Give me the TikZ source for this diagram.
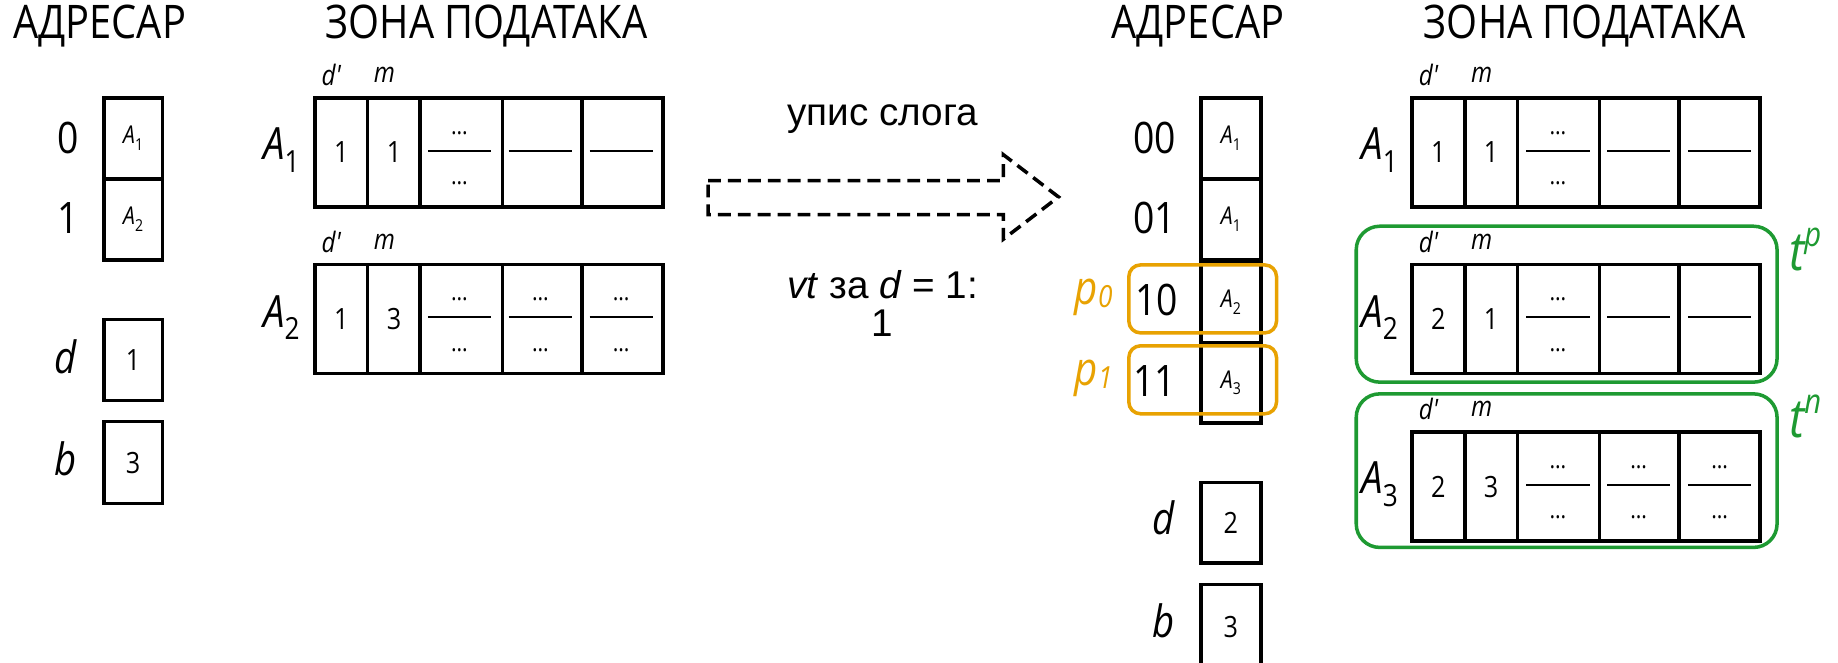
\documentclass[tikz,border=0pt]{standalone}
\usepackage{fontspec}
\setmainfont[FakeStretch=0.86]{Open Sans}
\newfontfamily\arialf{Liberation Sans}
\definecolor{orng}{HTML}{E8A202}
\definecolor{grn}{HTML}{1E9A32}
\newcommand\fsz[1]{\fontsize{#1}{#1}\selectfont}
\newcommand\subA[3]{\fsz{#1}\textit{A}\raisebox{-0.28em}{\fsz{#2}#3}}
\tikzset{
  box/.style={draw, line width=3.2pt, inner sep=0pt, anchor=north west},
  title/.style={font=\fsz{39.5}},
  lbl/.style={font=\fsz{37}},
  val/.style={font=\fsz{25}},
  hdr/.style={font=\fsz{24}\itshape},
  dots/.style={font=\fsz{21}, anchor=base, inner sep=0pt},
  fline/.style={line width=1.7pt},
  obox/.style={draw=orng, line width=3pt, rounded corners=10pt},
  gbox/.style={draw=grn, line width=3pt, rounded corners=20pt},
}
% fraction cell: name prefix, center x, center y
\newcommand\fraccell[3]{%
  \draw[fline] (#2-27,#3) -- (#2+27,#3);
  \node[dots] (#1u) at (#2,#3-14) {…};
  \node[dots] (#1d) at (#2,#3+29) {…};}
\newcommand\linecell[3]{%
  \draw[fline] (#2-27,#3) -- (#2+27,#3);}
% record: name, x0, ytop, v1, v2
\newcommand\record[5]{%
  \node[box, minimum width=45, minimum height=93] (#1c1) at (#2,#3) {};
  \node[val] at (#1c1.center) {#4};
  \node[box, minimum width=45, minimum height=93] (#1c2) at (#2+45,#3) {};
  \node[val] at (#1c2.center) {#5};
  \node[box, minimum width=70, minimum height=93] (#1c3) at (#2+90,#3) {};
  \node[box, minimum width=68, minimum height=93] (#1c4) at (#2+160,#3) {};
  \node[box, minimum width=69, minimum height=93] (#1c5) at (#2+228,#3) {};
  \node[hdr] (#1hd) at (#2+16,#3-18) {d\textquotesingle};
  \node[hdr] (#1hm) at (#2+61,#3-18) {m};}
\begin{document}
\begin{tikzpicture}[x=1pt,y=-1pt]
\useasboundingbox (0,0) rectangle (1568,565);
% ---------- left state ----------
\node[title] (t1) at (85,22) {АДРЕСАР};
\node[title] (t2) at (415,22) {ЗОНА ПОДАТАКА};
\node[box, minimum width=50, minimum height=69] (la0) at (87,82) {};
\node at (la0.center) {\subA{21}{14}{1}};
\node[box, minimum width=50, minimum height=69] (la1) at (87,151) {};
\node at (la1.center) {\subA{21}{14}{2}};
\node[lbl] (l0) at (58,118) {0};
\node[lbl] (l1) at (58,186) {1};
\node[box, minimum width=50, minimum height=69] (ld) at (87,271) {};
\node[val] at (ld.center) {1};
\node[box, minimum width=50, minimum height=70] (lb) at (87,358) {};
\node[val] at (lb.center) {3};
\node[lbl, font=\fsz{38}\itshape] (ldl) at (56,304) {d};
\node[lbl, font=\fsz{38}\itshape] (lbl) at (56,391) {b};
\record{la}{267}{82}{1}{1}
\fraccell{laf3}{392}{128.5}
\linecell{laf4}{461}{128.5}
\linecell{laf5}{530}{128.5}
\node (laname) at (240,128) {\subA{38}{26}{1}};
\record{lb}{267}{224}{1}{3}
\fraccell{lbf3}{392}{270.5}
\fraccell{lbf4}{461}{270.5}
\fraccell{lbf5}{530}{270.5}
\node (lbname) at (240,271) {\subA{38}{26}{2}};
% ---------- arrow ----------
\coordinate (a0) at (604,154);
\draw[line width=3pt, dashed, dash pattern=on 11pt off 6pt]
  (a0) -- (856,154) -- (856,132) -- (903,168) -- (856,204) -- (856,183) -- (604,183) -- cycle;
\node[font=\arialf\fsz{33}] (op) at (753,102) {упис слога};
\node[font=\arialf\fsz{33}] (vt) at (753,243) {\textit{vt} за \textit{d} = 1:};
\node[font=\arialf\fsz{33}] (vt1) at (753,276) {1};
% ---------- right state ----------
\node[title] (t3) at (1022,22) {АДРЕСАР};
\node[title] (t4) at (1352,22) {ЗОНА ПОДАТАКА};
\node[box, minimum width=51, minimum height=69] (ra0) at (1023,82) {};
\node at (ra0.center) {\subA{21}{14}{1}};
\node[box, minimum width=51, minimum height=69] (ra1) at (1023,151) {};
\node at (ra1.center) {\subA{21}{14}{1}};
\node[box, minimum width=51, minimum height=69] (ra2) at (1023,222) {};
\node at (ra2.center) {\subA{21}{14}{2}};
\node[box, minimum width=51, minimum height=68] (ra3) at (1023,291) {};
\node at (ra3.center) {\subA{21}{14}{3}};
\node[lbl] (r00) at (985,118) {00};
\node[lbl] (r01) at (985,186) {01};
\node[lbl] (r10) at (987,256) {10};
\node[lbl] (r11) at (985,325) {11};
\draw[obox] (963,226) rectangle (1089,284);
\draw[obox] (963,295) rectangle (1089,353);
\node[text=orng, font=\fsz{40}\itshape] (p0) at (933,254) {p\raisebox{-0.05em}{\fsz{26}0}};
\node[text=orng, font=\fsz{40}\itshape] (p1) at (933,323) {p\raisebox{-0.05em}{\fsz{26}1}};
\node[box, minimum width=51, minimum height=69] (rd) at (1023,410) {};
\node[val] at (rd.center) {2};
\node[box, minimum width=51, minimum height=70] (rb) at (1023,497) {};
\node[val] at ([yshift=-1pt]rb.center) {3};
\node[lbl, font=\fsz{38}\itshape] (rdl) at (993,442) {d};
\node[lbl, font=\fsz{38}\itshape] (rbl) at (993,530) {b};
\record{ra}{1203}{82}{1}{1}
\fraccell{raf3}{1329}{128.5}
\linecell{raf4}{1398}{128.5}
\linecell{raf5}{1467}{128.5}
\node (raname) at (1177,128) {\subA{38}{26}{1}};
\record{rb}{1203}{224}{2}{1}
\fraccell{rbf3}{1329}{270.5}
\linecell{rbf4}{1398}{270.5}
\linecell{rbf5}{1467}{270.5}
\node (rbname) at (1177,271) {\subA{38}{26}{2}};
\record{rc}{1203}{367}{2}{3}
\fraccell{rcf3}{1329}{413.5}
\fraccell{rcf4}{1398}{413.5}
\fraccell{rcf5}{1467}{413.5}
\node (rcname) at (1177,413) {\subA{38}{26}{3}};
\draw[gbox] (1157,193) rectangle (1516,326);
\draw[gbox] (1157,336) rectangle (1516,467);
\node[text=grn, font=\fsz{46}\itshape] (tp) at (1540,213) {t\raisebox{0.45em}{\fsz{29}p}};
\node[text=grn, font=\fsz{46}\itshape] (tn) at (1540,355) {t\raisebox{0.45em}{\fsz{29}n}};
\end{tikzpicture}
\end{document}
